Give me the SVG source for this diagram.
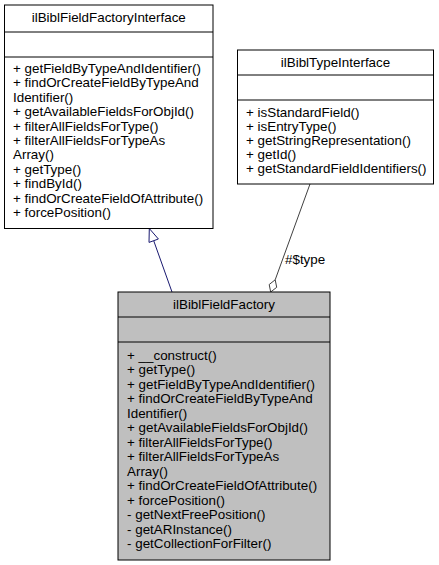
<svg xmlns="http://www.w3.org/2000/svg" width="439" height="565" viewBox="0 0 439 565">
<style>
text{font-family:"Liberation Sans",Arial,sans-serif;font-size:13.4px;fill:#000}
.t{text-anchor:middle}
.box{fill:#fff;stroke:#000;stroke-width:1}
.cur{fill:#bfbfbf}
.div{stroke:#000;stroke-width:1}
</style>
<rect width="439" height="565" fill="#fff"/>
<g id="connectors">
<g id="inherit">
<path d="M172,292 L153.7,240.7" stroke="#191970" fill="none"/>
<polygon points="149.3,228.5 158.4,239 149,242.4" fill="#fff" stroke="#191970"/>
</g>
<g id="aggregation">
<path d="M310,184 L275.2,279.8" stroke="#404040" fill="none"/>
<polygon points="270.7,292 269.2,284.5 275.2,279.8 276.7,287.3" fill="#fff" stroke="#404040"/>
<text x="285" y="264">#$type</text>
</g>
</g>
<g id="ilBiblFieldFactoryInterface">
<rect class="box" x="4.5" y="5" width="208.5" height="223.5"/>
<line class="div" x1="4.5" y1="32" x2="213" y2="32"/>
<line class="div" x1="4.5" y1="57" x2="213" y2="57"/>
<text class="t" x="108.75" y="22">ilBiblFieldFactoryInterface</text>
<text x="13" y="73">+ getFieldByTypeAndIdentifier()</text>
<text x="13" y="87.4">+ findOrCreateFieldByTypeAnd</text>
<text x="13" y="101.8">Identifier()</text>
<text x="13" y="116.2">+ getAvailableFieldsForObjId()</text>
<text x="13" y="130.6">+ filterAllFieldsForType()</text>
<text x="13" y="145">+ filterAllFieldsForTypeAs</text>
<text x="13" y="159.4">Array()</text>
<text x="13" y="173.8">+ getType()</text>
<text x="13" y="188.2">+ findById()</text>
<text x="13" y="202.6">+ findOrCreateFieldOfAttribute()</text>
<text x="13" y="217">+ forcePosition()</text>
</g>
<g id="ilBiblTypeInterface">
<rect class="box" x="237.5" y="50" width="196" height="134"/>
<line class="div" x1="237.5" y1="75" x2="433.5" y2="75"/>
<line class="div" x1="237.5" y1="100" x2="433.5" y2="100"/>
<text class="t" x="335.5" y="67">ilBiblTypeInterface</text>
<text x="246" y="116.5">+ isStandardField()</text>
<text x="246" y="130.7">+ isEntryType()</text>
<text x="246" y="144.9">+ getStringRepresentation()</text>
<text x="246" y="159.1">+ getId()</text>
<text x="246" y="173.3">+ getStandardFieldIdentifiers()</text>
</g>
<g id="ilBiblFieldFactory">
<rect class="box cur" x="118" y="292" width="212" height="268"/>
<line class="div" x1="118" y1="317" x2="330" y2="317"/>
<line class="div" x1="118" y1="342" x2="330" y2="342"/>
<text class="t" x="224" y="309">ilBiblFieldFactory</text>
<text x="127" y="359.5">+ __construct()</text>
<text x="127" y="374">+ getType()</text>
<text x="127" y="388.5">+ getFieldByTypeAndIdentifier()</text>
<text x="127" y="403">+ findOrCreateFieldByTypeAnd</text>
<text x="127" y="417.5">Identifier()</text>
<text x="127" y="432">+ getAvailableFieldsForObjId()</text>
<text x="127" y="446.5">+ filterAllFieldsForType()</text>
<text x="127" y="461">+ filterAllFieldsForTypeAs</text>
<text x="127" y="475.5">Array()</text>
<text x="127" y="490">+ findOrCreateFieldOfAttribute()</text>
<text x="127" y="504.5">+ forcePosition()</text>
<text x="127" y="519">- getNextFreePosition()</text>
<text x="127" y="533.5">- getARInstance()</text>
<text x="127" y="548">- getCollectionForFilter()</text>
</g>
</svg>
